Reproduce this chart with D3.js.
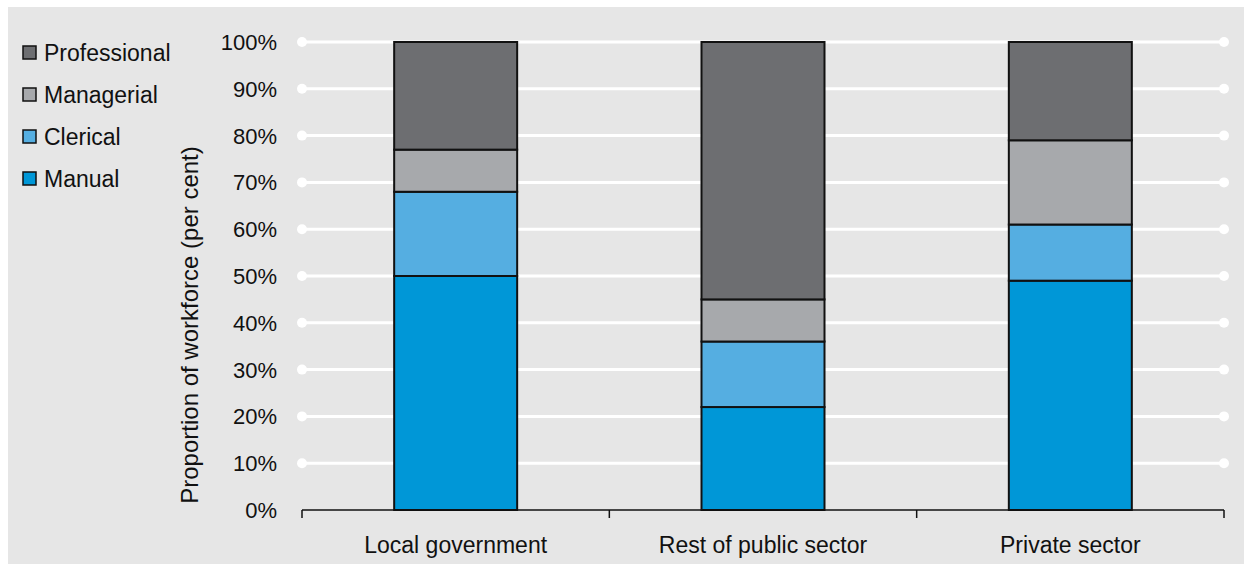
<!DOCTYPE html>
<html lang="en">
<head>
<meta charset="UTF-8">
<title>Workforce by occupation</title>
<script src="https://d3js.org/d3.v7.min.js"></script>
<style>
  body { margin: 0; background: #fff; }
  text { font-family: "Liberation Sans", Arial, sans-serif; fill: #111; }
  .tick-label { font-size: 22px; }
  .cat { font-size: 23px; }
  .legend text { font-size: 23px; }
</style>
</head>
<body>
<svg width="1244" height="564"></svg>
<script>
var sectors = ["Local government", "Rest of public sector", "Private sector"];
var series = ["Manual", "Clerical", "Managerial", "Professional"];
var manual = [50, 22, 49];
var clerical = [18, 14, 12];
var managerial = [9, 9, 18];
var professional = [23, 55, 21];
var yTicks = [0, 10, 20, 30, 40, 50, 60, 70, 80, 90, 100];
var colors = ["#0097d7", "#55aee1", "#a7a9ac", "#6d6e71"];

var rows = sectors.map(function(s, i) {
  return { sector: s, Manual: manual[i], Clerical: clerical[i],
           Managerial: managerial[i], Professional: professional[i] };
});

var svg = d3.select("svg");
svg.append("rect").attr("x", 8).attr("y", 7).attr("width", 1236).attr("height", 557)
  .attr("fill", "#e6e6e6");

var x0 = 302, x1 = 1224, yTop = 42, yBot = 510;
var x = d3.scaleBand().domain(sectors).range([x0, x1]).paddingInner(0).paddingOuter(0);
var y = d3.scaleLinear().domain([0, 100]).range([yBot, yTop]);
var color = d3.scaleOrdinal().domain(series).range(colors);

// gridlines with round end dots
var grid = svg.append("g");
yTicks.filter(function(t) { return t > 0; }).forEach(function(t) {
  grid.append("line").attr("x1", x0).attr("x2", x1).attr("y1", y(t)).attr("y2", y(t))
    .attr("stroke", "#fff").attr("stroke-width", 3);
  grid.append("circle").attr("cx", x0).attr("cy", y(t)).attr("r", 5).attr("fill", "#fff");
  grid.append("circle").attr("cx", x1).attr("cy", y(t)).attr("r", 5).attr("fill", "#fff");
});

// y tick labels
svg.append("g").selectAll("text").data(yTicks).enter().append("text")
  .attr("class", "tick-label")
  .attr("x", 277).attr("y", function(d) { return y(d); })
  .attr("dy", "0.36em").attr("text-anchor", "end")
  .text(function(d) { return d + "%"; });

svg.append("text")
  .attr("transform", "translate(198,325) rotate(-90)")
  .attr("text-anchor", "middle").style("font-size", "24px")
  .text("Proportion of workforce (per cent)");

// stacked bars
var stack = d3.stack().keys(series)(rows);
var barW = 123;
svg.append("g").selectAll("g").data(stack).enter().append("g")
  .attr("fill", function(d) { return color(d.key); })
  .selectAll("rect").data(function(d) { return d; }).enter().append("rect")
  .attr("x", function(d) { return x(d.data.sector) + (x.bandwidth() - barW) / 2; })
  .attr("width", barW)
  .attr("y", function(d) { return y(d[1]); })
  .attr("height", function(d) { return y(d[0]) - y(d[1]); })
  .attr("stroke", "#111").attr("stroke-width", 2);

// x axis
var xAxis = svg.append("g");
xAxis.append("line").attr("x1", x0).attr("x2", x1).attr("y1", yBot).attr("y2", yBot)
  .attr("stroke", "#111").attr("stroke-width", 1.5);
var edges = sectors.map(function(s) { return x(s); }).concat([x1]);
edges.forEach(function(e) {
  xAxis.append("line").attr("x1", e).attr("x2", e).attr("y1", yBot).attr("y2", yBot + 8)
    .attr("stroke", "#111").attr("stroke-width", 1.5);
});
xAxis.selectAll("text.cat").data(sectors).enter().append("text")
  .attr("class", "cat")
  .attr("x", function(d) { return x(d) + x.bandwidth() / 2; })
  .attr("y", 553).attr("text-anchor", "middle")
  .text(function(d) { return d; });

// legend
var legendItems = series.slice().reverse();
var legend = svg.append("g").attr("class", "legend");
legendItems.forEach(function(k, i) {
  var cy = 53 + i * 42;
  legend.append("rect").attr("x", 23).attr("y", cy - 7).attr("width", 13).attr("height", 13)
    .attr("fill", color(k)).attr("stroke", "#111").attr("stroke-width", 1.5);
  legend.append("text").attr("x", 44).attr("y", cy).attr("dy", "0.36em").text(k);
});
</script>
</body>
</html>
